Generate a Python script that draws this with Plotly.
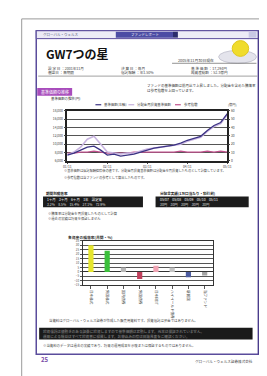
import plotly.graph_objects as go

W, H = 267, 376
FONT = "Noto Sans CJK JP"

# ---------------- data ----------------
dates = ["2001/11", "2002/01", "2002/03", "2002/05", "2002/07", "2002/09", "2002/11",
         "2003/01", "2003/03", "2003/05", "2003/07", "2003/09", "2003/11",
         "2004/01", "2004/03", "2004/05", "2004/07", "2004/09", "2004/11",
         "2005/01", "2005/03", "2005/05", "2005/07", "2005/09", "2005/11"]
nav = [7410, 7880, 8590, 9290, 9530, 8590, 7410, 7650, 7180, 7410, 7650, 8120, 8590,
       9060, 9290, 9530, 9760, 10240, 10940, 11410, 11880, 13290, 14470, 15180, 17290]
nav_reinv = [7410, 8120, 9290, 11180, 11880, 10000, 8120, 7880, 7650, 7880, 7880, 8350,
             8820, 9060, 9290, 9530, 9760, 10000, 10700, 11180, 11650, 13060, 14240, 14940, 17060]
benchmark = [7880, 7880, 8120, 8120, 8350, 8120, 7880, 7880, 7880, 7880, 8120, 8120, 8120,
             8120, 8120, 8120, 8120, 8350, 8120, 8120, 8120, 8350, 8120, 8350, 8120]
x_tick_idx = [0, 6, 12, 18, 24]
x_tick_text = ["01/11", "02/11", "03/11", "04/11", "05/11"]
left_ticks = [6000, 8000, 10000, 12000, 14000, 16000, 18000]
right_ticks = [0, 10, 20, 30, 40, 50, 60]
legend_names = ["基準価額(左軸)", "分配金再投資基準価額", "参考指数"]

bar_cats = ["日本株式", "外国株式", "国内債券", "外国債券", "日本REIT", "ハイイールド債券", "新興国", "当ファンド"]
bar_vals = [30, 24, 5, -8, 7, 5, -6, -4]
bar_colors = ["#e6e62e", "#3cc03c", "#b8b8b8", "#c0405c", "#f0a4b4", "#c4c4c4", "#4c5ca0", "#a4a4a4"]

title = "GW7つの星"


def X(px):
    return px / W


def Y(py):
    return 1 - py / H


shapes = []
annos = []


def rect(x0, y0, x1, y1, fill=None, line=None, lw=1, layer="below"):
    shapes.append(dict(type="rect", xref="paper", yref="paper", x0=X(x0), x1=X(x1), y0=Y(y0), y1=Y(y1),
                       fillcolor=fill if fill else "rgba(0,0,0,0)",
                       line=dict(color=line if line else "rgba(0,0,0,0)", width=lw if line else 0),
                       layer=layer))


def hline(x0, x1, y, color, lw=1):
    shapes.append(dict(type="line", xref="paper", yref="paper", x0=X(x0), x1=X(x1), y0=Y(y), y1=Y(y),
                       line=dict(color=color, width=lw)))


def text(x, y, s, size=4.5, color="#444", bold=False, xanchor="left", yanchor="middle", ff=FONT):
    if bold:
        s = "<b>" + s + "</b>"
    annos.append(dict(xref="paper", yref="paper", x=X(x), y=Y(y), text=s, showarrow=False,
                      xanchor=xanchor, yanchor=yanchor, font=dict(size=size, color=color, family=ff)))


# page shadow and page
rect(13, 11, 263, 375, fill="#4a4a4a")
rect(10, 8, 260, 371, fill="#ffffff", line="#9a9a9a", lw=1)
# inner purple frame
rect(25, 20, 255, 348, fill="#ffffff", line="#5a4c9c", lw=1.5)
shapes.append(dict(type="line", xref="paper", yref="paper", x0=X(254.5), x1=X(254.5), y0=Y(20), y1=Y(348),
                   line=dict(color="#4a3c8c", width=2.5)))
# header band
rect(25, 20, 255, 28, fill="#ecebf6", line="#5a4c9c", lw=1)
rect(107, 21, 166, 27, fill="#4c4ca4")
rect(166, 21, 171, 27, fill="#2c2c6c")
rect(244, 21, 252, 27, fill="#c8c8e4")
text(30, 24, "グローバル・ウェルス", size=3.5, color="#5a5a7a")
text(137, 24, "ファンドレポート", size=3.5, color="#ffffff", xanchor="center")

# title
text(33, 43, title, size=12, color="#111", bold=True)

# logo
shapes.append(dict(type="circle", xref="paper", yref="paper", x0=X(213), x1=X(252), y0=Y(53), y1=Y(40),
                   fillcolor="#e4e4ec", line=dict(color="#c8c8d4", width=1)))
shapes.append(dict(type="circle", xref="paper", yref="paper", x0=X(227), x1=X(244), y0=Y(46), y1=Y(30),
                   fillcolor="#f0dc2c", line=dict(color="#e0c820", width=1)))
rect(220, 44, 236, 48, fill="#a8a8b0")

# date line
text(210, 50, "2005年11月30日現在", size=3.8, color="#444", xanchor="right")
hline(165, 252, 53, "#777", 0.8)

# info rows
text(35, 58, "設 定 日 ：2001年11月", size=3.6)
text(35, 62.5, "償還日 ：無期限", size=3.6)
text(110, 58, "決 算 日 ：毎月", size=3.6)
text(110, 62.5, "信託報酬 ：年1.50%", size=3.6)
text(182, 58, "基 準 価 額 ：17,294円", size=3.6)
text(182, 62.5, "純資産総額 ：52.3億円", size=3.6)
hline(27, 253, 66, "#8a8a8a", 0.8)

# section label
rect(26, 78, 62, 86, fill="#a84cbc")
text(44, 82, "基準価額の推移", size=4, color="#ffffff", xanchor="center")
text(38, 89, "基準価額の推移(円)", size=3.4, color="#333")
text(137, 76, "ファンドの基準価額は前月比で上昇しました。分配金を含めた騰落率", size=3.5, color="#333")
text(137, 81, "は参考指数を上回っています。", size=3.5, color="#333")

# legend of line chart
leg_colors = ["#3c3484", "#c4b0dc", "#c0508c"]
leg_x = [86, 120, 168]
for lx, nm, c in zip(leg_x, legend_names, leg_colors):
    hline(lx, lx + 6, 95, c, 1.2)
    text(lx + 7, 95, nm, size=3.4, color="#444")
text(227, 95, "(億円)", size=3.2, color="#444", xanchor="center")

# under chart texts
text(52, 162, "※基準価額は信託報酬控除後の値です。分配金再投資基準価額は分配金を再投資したものとして計算しています。", size=3.2, color="#444")
text(52, 168.5, "※参考指数は当ファンドの参考として算出したものです。", size=3.2, color="#444")

# tables
text(33, 185, "期間別騰落率", size=3.6, color="#222", bold=True)
rect(32, 188, 135, 199, fill="#1c1c1c")
text(34, 191, "1ヶ月　3ヶ月　6ヶ月　1年　設定来", size=3.4, color="#ffffff")
text(34, 196, "3.2%　8.5%　15.4%　27.1%　72.9%", size=3.4, color="#dddddd")
text(150, 185, "分配金実績(1万口当たり・税引前)", size=3.6, color="#222", bold=True)
rect(148, 188, 244, 199, fill="#1c1c1c")
text(150, 191, "05/07　05/08　05/09　05/10　05/11", size=3.4, color="#ffffff")
text(150, 196, "30円　30円　30円　30円　30円", size=3.4, color="#dddddd")
text(35, 205, "※騰落率は分配金を再投資したものとして計算", size=3.3, color="#444")
text(35, 210, "※過去の実績は将来を保証しません", size=3.3, color="#444")

# bar chart title
text(56, 229.5, "各資産の騰落率(月間・%)", size=3.8, color="#333", bold=True)

# bottom texts
text(36, 314, "当資料はグローバル・ウェルス証券が作成した販売用資料です。投資信託は預金ではありません。", size=3.4, color="#444")
rect(28, 321, 248, 333, fill="#1a1a1a")
text(30, 324.5, "投資信託は値動きのある証券に投資しますので基準価額は変動します。元本は保証されていません。", size=3.6, color="#6a6a6a", bold=True)
text(30, 330, "運用による損益はすべて投資者に帰属します。お申込みの際は目論見書をご確認ください。", size=3.6, color="#6a6a6a", bold=True)
text(30, 339, "※当資料のデータは過去の実績であり、将来の運用成果を示唆または保証するものではありません。", size=3.4, color="#444")

# footer
text(28, 353, "25", size=6, color="#7a4ca8", bold=True)
text(250, 355, "グローバル・ウェルス証券株式会社", size=3.6, color="#444", xanchor="right")

# ---------------- traces ----------------
fig = go.Figure()
fig.add_trace(go.Scatter(x=dates, y=benchmark, mode="lines", line=dict(color="#c0508c", width=1.2),
                         xaxis="x", yaxis="y", showlegend=False))
fig.add_trace(go.Scatter(x=dates, y=nav_reinv, mode="lines", line=dict(color="#c8b4e0", width=1.6),
                         xaxis="x", yaxis="y", showlegend=False))
fig.add_trace(go.Scatter(x=dates, y=nav, mode="lines", line=dict(color="#3c3484", width=1.3),
                         xaxis="x", yaxis="y", showlegend=False))
fig.add_trace(go.Scatter(x=[dates[0], dates[-1]], y=[right_ticks[0], right_ticks[0]], mode="lines",
                         line=dict(width=0), hoverinfo="skip", xaxis="x", yaxis="y2", showlegend=False))

fig.add_trace(go.Bar(x=bar_cats, y=bar_vals, marker=dict(color=bar_colors, line=dict(width=0)),
                     xaxis="x3", yaxis="y3", showlegend=False, width=0.32))

tickfont = dict(size=3.3, color="#444", family=FONT)
fig.update_layout(
    width=W, height=H, margin=dict(l=0, r=0, t=0, b=0),
    paper_bgcolor="#ffffff", plot_bgcolor="rgba(0,0,0,0)",
    shapes=shapes, annotations=annos,
    xaxis=dict(domain=[X(57), X(222)], type="category", range=[0, 24],
               tickvals=[dates[i] for i in x_tick_idx], ticktext=x_tick_text,
               showgrid=False, showline=True, linecolor="#222", linewidth=1.5, mirror=True,
               ticks="outside", ticklen=1.5, tickcolor="#444", tickfont=tickfont, anchor="y"),
    yaxis=dict(domain=[Y(152), Y(101)], range=[6000, 18000], tickvals=left_ticks,
               ticktext=[f"{v:,}" for v in left_ticks],
               showgrid=True, gridcolor="#555555", gridwidth=1, showline=True, linecolor="#222",
               linewidth=1.5, mirror=True, ticks="outside", ticklen=2, tickcolor="#444",
               tickfont=tickfont, anchor="x", zeroline=False),
    yaxis2=dict(overlaying="y", side="right", range=[0, 60], tickvals=right_ticks, showgrid=False,
                ticks="outside", ticklen=2, tickcolor="#444", tickfont=tickfont, anchor="x",
                zeroline=False, showline=False),
    xaxis3=dict(domain=[X(73), X(207)], anchor="y3", tickangle=90, showgrid=False, showline=True,
                linecolor="#333", linewidth=1, mirror=True, ticks="outside", ticklen=3, tickcolor="#555",
                tickfont=dict(size=3.6, color="#444", family=FONT)),
    yaxis3=dict(domain=[Y(278), Y(233)], anchor="x3", range=[-15, 35], dtick=5, showgrid=True,
                gridcolor="#555555", gridwidth=1, showline=True, linecolor="#333", linewidth=1,
                mirror=True, zeroline=True, zerolinecolor="#333", zerolinewidth=1.2,
                ticks="outside", ticklen=2, tickcolor="#555", tickfont=dict(size=3, color="#555", family=FONT)),
    bargap=0.6,
)

fig.write_html("out.html")
